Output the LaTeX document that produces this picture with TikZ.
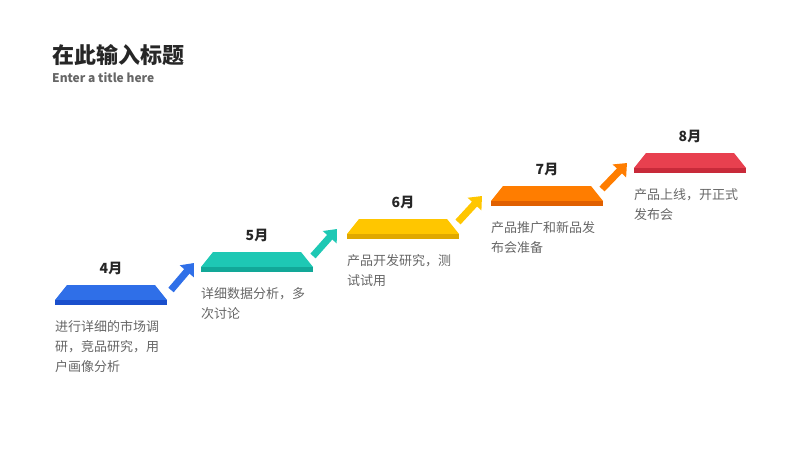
\documentclass[tikz,border=0pt]{standalone}
\usepackage{fontspec}
\newfontfamily\cjk{Noto Sans CJK SC}
\usetikzlibrary{arrows.meta}
\definecolor{cblue}{HTML}{2F6FE8}\definecolor{dblue}{HTML}{1A4FCC}
\definecolor{cteal}{HTML}{1EC8B4}\definecolor{dteal}{HTML}{12A898}
\definecolor{cyel}{HTML}{FFC600}\definecolor{dyel}{HTML}{E0A800}
\definecolor{cora}{HTML}{FF7D00}\definecolor{dora}{HTML}{E06000}
\definecolor{cred}{HTML}{E8404F}\definecolor{dred}{HTML}{C82A3A}
\definecolor{txt}{HTML}{666666}
\begin{document}
\begin{tikzpicture}[x=1pt,y=-1pt,
  mon/.style={font=\cjk\bfseries\fontsize{14}{16}\selectfont,text=black!85},
  desc/.style={font=\cjk\fontsize{13}{20}\selectfont,text=txt,anchor=north west,align=left,inner sep=0},
  arr/.style={line width=7pt,-{Triangle[length=11pt,width=18pt]}}]
\useasboundingbox (0,0) rectangle (800,450);
\node[anchor=west,inner sep=0,font=\cjk\bfseries\fontsize{22}{24}\selectfont,text=black!85] (title) at (52,55) {在此输入标题};
\node[anchor=west,inner sep=0,font=\cjk\bfseries\fontsize{12}{14}\selectfont,text=txt] (sub) at (52,78) {Enter a title here};
\foreach \i/\x/\y/\c/\d/\m in {1/55/285/cblue/dblue/4月,2/201/252/cteal/dteal/5月,3/347/219/cyel/dyel/6月,4/491/186/cora/dora/7月,5/634/153/cred/dred/8月}{
  \fill[\c] (\x+12,\y) -- (\x+100,\y) -- (\x+112,\y+15) -- (\x,\y+15) -- cycle;
  \fill[\d] (\x,\y+15) rectangle (\x+112,\y+20);
  \node[mon] (m\i) at (\x+56,\y-17) {\m};
  \coordinate (p\i) at (\x,\y+35);
}
\node[desc] (t1) at (p1) {进行详细的市场调\\研，竞品研究，用\\户画像分析};
\node[desc] (t2) at (p2) {详细数据分析，多\\次讨论};
\node[desc] (t3) at (p3) {产品开发研究，测\\试试用};
\node[desc] (t4) at (p4) {产品推广和新品发\\布会准备};
\node[desc] (t5) at (p5) {产品上线，开正式\\发布会};
\coordinate (a1) at (171,290);\coordinate (b1) at (194,263);
\coordinate (a2) at (313,256);\coordinate (b2) at (337,229);
\coordinate (a3) at (458,222);\coordinate (b3) at (482,196);
\coordinate (a4) at (602,189);\coordinate (b4) at (627,163);
\draw[arr,cblue] (a1) -- (b1);
\draw[arr,cteal] (a2) -- (b2);
\draw[arr,cyel] (a3) -- (b3);
\draw[arr,cora] (a4) -- (b4);
\end{tikzpicture}
\end{document}
